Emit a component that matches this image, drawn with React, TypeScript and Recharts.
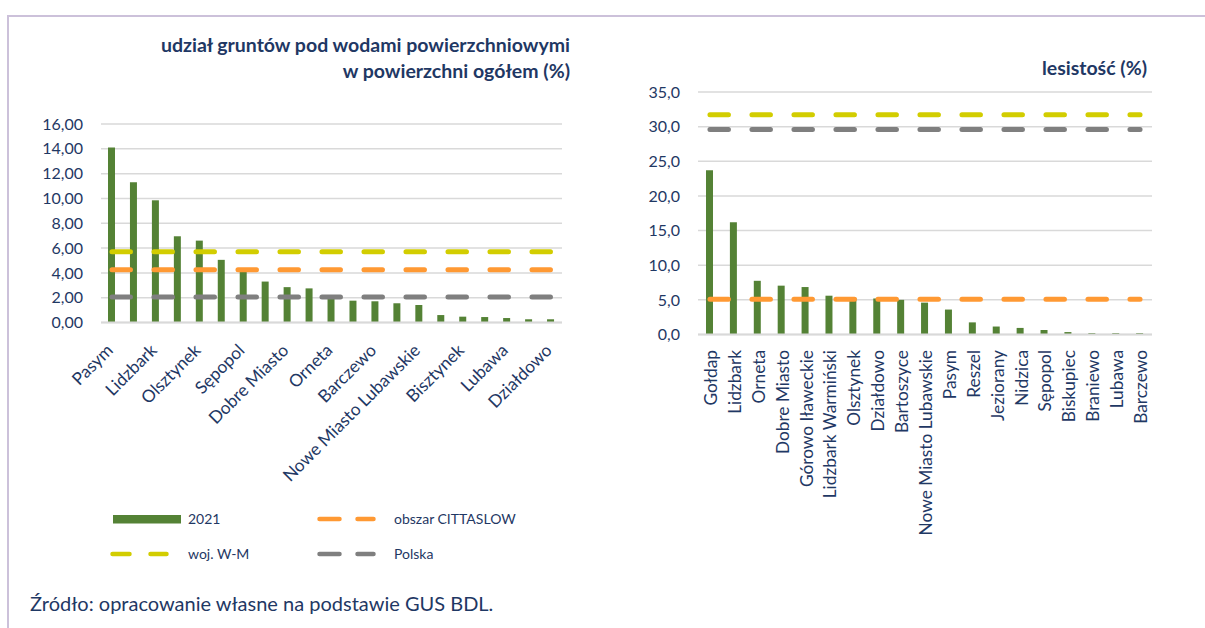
import React from 'react';
import { ComposedChart, Bar, Line, XAxis, YAxis, CartesianGrid } from 'recharts';

// ---------- data: left chart (udział gruntów pod wodami) ----------
const waterTowns = [
  'Pasym', 'Ryn', 'Lidzbark', 'Gołdap', 'Olsztynek', 'Biskupiec', 'Sępopol',
  'Nidzica', 'Dobre Miasto', 'Jeziorany', 'Orneta', 'Reszel', 'Barczewo',
  'Bartoszyce', 'Nowe Miasto Lubawskie', 'Lidzbark Warmiński', 'Bisztynek',
  'Górowo Iławeckie', 'Lubawa', 'Braniewo', 'Działdowo',
];
const waterShare = [
  14.1, 11.3, 9.85, 6.95, 6.6, 5.05, 4.15, 3.3, 2.85, 2.75, 1.9,
  1.76, 1.71, 1.55, 1.41, 0.6, 0.47, 0.44, 0.36, 0.26, 0.26,
];
const WATER_WOJ = 5.7;
const WATER_CITTASLOW = 4.25;
const WATER_POLSKA = 2.05;
const waterTicks = [0, 2, 4, 6, 8, 10, 12, 14, 16];

// ---------- data: right chart (lesistość) ----------
const forestTowns = [
  'Gołdap', 'Lidzbark', 'Orneta', 'Dobre Miasto', 'Górowo Iławeckie',
  'Lidzbark Warmiński', 'Olsztynek', 'Działdowo', 'Bartoszyce',
  'Nowe Miasto Lubawskie', 'Pasym', 'Reszel', 'Jeziorany', 'Nidzica',
  'Sępopol', 'Biskupiec', 'Braniewo', 'Lubawa', 'Barczewo',
];
const forestShare = [
  23.7, 16.2, 7.75, 7.05, 6.85, 5.6, 5.3, 5.2, 5.0, 4.6,
  3.6, 1.75, 1.15, 0.95, 0.65, 0.35, 0.2, 0.2, 0.2,
];
const FOREST_WOJ = 31.7;
const FOREST_CITTASLOW = 5.1;
const FOREST_POLSKA = 29.6;
const forestTicks = [0, 5, 10, 15, 20, 25, 30, 35];

// ---------- text ----------
const titleLeft1 = 'udział gruntów pod wodami powierzchniowymi';
const titleLeft2 = 'w powierzchni ogółem (%)';
const titleRight = 'lesistość (%)';
const legendLabels = ['2021', 'obszar CITTASLOW', 'woj. W-M', 'Polska'];
const sourceText = 'Źródło: opracowanie własne na podstawie GUS BDL.';

// ---------- styles ----------
const FONT = 'Lato, "Noto Sans", sans-serif';
const NAVY = '#1F3864';
const GREEN = '#548235';
const YELLOW = '#D2CD00';
const ORANGE = '#FF9933';
const GRAY = '#7F7F7F';
const GRID = '#D9D9D9';
const BORDER = '#CCC1DA';

const waterData = waterTowns.map((town, i) => ({
  town,
  share: waterShare[i],
  woj: WATER_WOJ,
  cittaslow: WATER_CITTASLOW,
  polska: WATER_POLSKA,
}));

const forestData = forestTowns.map((town, i) => ({
  town,
  share: forestShare[i],
  woj: FOREST_WOJ,
  cittaslow: FOREST_CITTASLOW,
  polska: FOREST_POLSKA,
}));

const WaterTick = (props: any) => {
  const { x, y, payload } = props;
  return (
    <text
      transform={`translate(${x + 2},${y + 29}) rotate(-45)`}
      textAnchor="end"
      fill={NAVY}
      fontSize={17.3}
      fontFamily={FONT}
    >
      {payload.value}
    </text>
  );
};

const ForestTick = (props: any) => {
  const { x, y, payload } = props;
  return (
    <text
      transform={`translate(${x + 7},${y + 15.5}) rotate(-90)`}
      textAnchor="end"
      fill={NAVY}
      fontSize={17.3}
      fontFamily={FONT}
    >
      {payload.value}
    </text>
  );
};

const fmt2 = (v: number) => v.toFixed(2).replace('.', ',');
const fmt1 = (v: number) => v.toFixed(1).replace('.', ',');

const dashProps = {
  strokeWidth: 5,
  strokeDasharray: '18.5 23.5',
  strokeLinecap: 'round' as const,
  dot: false,
  activeDot: false,
  isAnimationActive: false,
  type: 'linear' as const,
};

const titleStyle: React.CSSProperties = {
  position: 'absolute',
  left: 0,
  textAlign: 'right',
  fontSize: 19.5,
  fontWeight: 700,
  lineHeight: '22px',
  color: NAVY,
  whiteSpace: 'nowrap',
};

export default function App() {
  return (
    <div
      style={{
        position: 'absolute',
        left: 0,
        top: 0,
        width: 1205,
        height: 628,
        background: '#fff',
        overflow: 'hidden',
        fontFamily: FONT,
      }}
    >
      {/* frame */}
      <div style={{ position: 'absolute', left: 6.5, top: 14.5, width: 1200, height: 2, background: BORDER }} />
      <div style={{ position: 'absolute', left: 6.5, top: 14.5, width: 2, height: 620, background: BORDER }} />

      {/* titles */}
      <div style={{ ...titleStyle, top: 34, width: 570 }}>{titleLeft1}</div>
      <div style={{ ...titleStyle, top: 60, width: 570 }}>{titleLeft2}</div>
      <div style={{ ...titleStyle, left: 600, top: 57, width: 547 }}>{titleRight}</div>

      {/* left chart */}
      <div style={{ position: 'absolute', left: 0, top: 0 }}>
        <ComposedChart
          width={600}
          height={505}
          data={waterData}
          margin={{ top: 124, right: 38, bottom: 32.5, left: 0 }}
        >
          <CartesianGrid vertical={false} stroke={GRID} strokeWidth={1.5} />
          <XAxis
            dataKey="town"
            interval={1}
            tickLine={false}
            tickSize={0}
            tickMargin={0}
            axisLine={{ stroke: GRID, strokeWidth: 2 }}
            height={150}
            tick={<WaterTick />}
          />
          <YAxis
            domain={[0, 16]}
            ticks={waterTicks}
            width={101}
            tickLine={false}
            axisLine={false}
            tickMargin={12}
            tickFormatter={fmt2}
            tick={{ fill: NAVY, fontSize: 16, fontFamily: FONT }}
          />
          <Bar dataKey="share" fill={GREEN} barSize={7} isAnimationActive={false} />
          <Line dataKey="woj" stroke={YELLOW} {...dashProps} />
          <Line dataKey="cittaslow" stroke={ORANGE} {...dashProps} />
          <Line dataKey="polska" stroke={GRAY} {...dashProps} />
        </ComposedChart>
      </div>

      {/* right chart */}
      <div style={{ position: 'absolute', left: 600, top: 0 }}>
        <ComposedChart
          width={605}
          height={560}
          data={forestData}
          margin={{ top: 92, right: 53, bottom: 15.5, left: 0 }}
        >
          <CartesianGrid vertical={false} stroke={GRID} strokeWidth={1.5} />
          <XAxis
            dataKey="town"
            interval={0}
            tickLine={false}
            tickSize={0}
            tickMargin={0}
            axisLine={{ stroke: GRID, strokeWidth: 2 }}
            height={210}
            tick={<ForestTick />}
          />
          <YAxis
            domain={[0, 35]}
            ticks={forestTicks}
            width={98}
            tickLine={false}
            axisLine={false}
            tickMargin={12}
            tickFormatter={fmt1}
            tick={{ fill: NAVY, fontSize: 16, fontFamily: FONT }}
          />
          <Bar dataKey="share" fill={GREEN} barSize={7} isAnimationActive={false} />
          <Line dataKey="woj" stroke={YELLOW} {...dashProps} />
          <Line dataKey="cittaslow" stroke={ORANGE} {...dashProps} />
          <Line dataKey="polska" stroke={GRAY} {...dashProps} />
        </ComposedChart>
      </div>

      {/* legend */}
      <svg style={{ position: 'absolute', left: 0, top: 0 }} width={1205} height={628}>
        <rect x={113} y={515} width={68} height={8.5} fill={GREEN} />
        <line x1={319.5} y1={519} x2={373.5} y2={519} stroke={ORANGE} strokeWidth={4.5} strokeLinecap="round" strokeDasharray="20 18" />
        <line x1={112.5} y1={554} x2={166.5} y2={554} stroke={YELLOW} strokeWidth={4.5} strokeLinecap="round" strokeDasharray="17 21" />
        <line x1={319.5} y1={554} x2={373.5} y2={554} stroke={GRAY} strokeWidth={4.5} strokeLinecap="round" strokeDasharray="20 18" />
        <g fill={NAVY} fontSize={14} fontFamily={FONT}>
          <text x={188} y={519} dy="0.35em">{legendLabels[0]}</text>
          <text x={394} y={519} dy="0.35em">{legendLabels[1]}</text>
          <text x={188} y={554} dy="0.35em">{legendLabels[2]}</text>
          <text x={394} y={554} dy="0.35em">{legendLabels[3]}</text>
        </g>
      </svg>

      {/* source */}
      <div style={{ position: 'absolute', left: 30, top: 590, fontSize: 20, lineHeight: '26px', color: NAVY, whiteSpace: 'nowrap' }}>
        {sourceText}
      </div>
    </div>
  );
}
